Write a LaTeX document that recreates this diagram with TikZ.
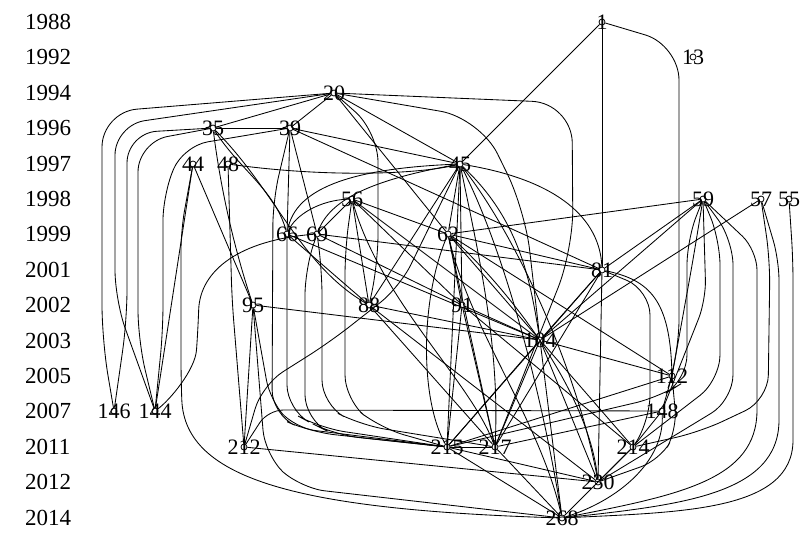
\documentclass[tikz,border=0pt]{standalone}
\usepackage{fontspec}
\setmainfont{Liberation Serif}
\newcommand\gnode[4]{\node[dot] (n#1) at (#2,#3) {}; \node[lab] (t#1) at (#2,#3) {#4};}
\begin{document}
\begin{tikzpicture}[x=1pt,y=-1pt,
  dot/.style={circle, draw, inner sep=0pt, minimum size=6pt, line width=0.8pt},
  lab/.style={inner sep=0pt, font=\fontsize{22}{22}\selectfont},
  yr/.style={inner sep=0pt, anchor=west, font=\fontsize{23}{23}\selectfont},
  e/.style={line width=0.85pt, rounded corners=20pt}]
\useasboundingbox (0,0) rectangle (804,539);
% year labels
\foreach \yy/\k in {1988/0,1992/1,1994/2,1996/3,1997/4,1998/5,1999/6,2001/7,2002/8,2003/9,2005/10,2007/11,2011/12,2012/13,2014/14}
  \node[yr] (y\yy) at (25,{22+35.4*\k}) {\yy};
% nodes
\gnode{1}{602}{22}{1}
\gnode{13}{693}{57}{13}
\gnode{20}{334}{93}{20}
\gnode{35}{213}{128}{35}
\gnode{39}{290}{128}{39}
\gnode{44}{193}{164}{44}
\gnode{48}{228}{164}{48}
\gnode{45}{460}{164}{45}
\gnode{56}{352}{199}{56}
\gnode{59}{703}{199}{59}
\gnode{57}{761}{199}{57}
\gnode{55}{789}{199}{55}
\gnode{66}{287}{234}{66}
\gnode{69}{317}{234}{69}
\gnode{62}{448}{234}{62}
\gnode{81}{602}{270}{81}
\gnode{95}{253}{305}{95}
\gnode{88}{369}{305}{88}
\gnode{91}{462}{305}{91}
\gnode{104}{540}{340}{104}
\gnode{112}{672}{376}{112}
\gnode{146}{114}{411}{146}
\gnode{144}{155}{411}{144}
\gnode{148}{662}{411}{148}
\gnode{212}{244}{447}{212}
\gnode{215}{447}{447}{215}
\gnode{217}{495}{447}{217}
\gnode{214}{633}{447}{214}
\gnode{230}{598}{482}{230}
\gnode{268}{562}{518}{268}
% straight edges
\foreach \a/\b in {1/45, 1/81, 20/35, 20/39, 20/45, 20/62, 35/39, 39/45, 39/66, 39/69, 39/81,
  44/144, 44/95, 45/62, 45/91, 45/88, 45/215, 56/62, 56/88, 56/91, 56/104, 56/69, 66/88, 66/104,
  69/91, 69/81, 62/81, 62/59, 62/112, 62/91, 62/104, 62/217, 59/81, 59/104, 57/104, 81/104, 81/215,
  81/217, 81/230, 88/104, 88/217, 88/230, 91/104, 91/215, 91/217, 91/214, 95/212, 95/104,
  104/112, 104/215, 104/217, 104/230, 104/268, 104/214, 112/148, 112/215, 148/217, 148/214,
  212/230, 215/217, 215/268, 215/230, 217/268, 214/230, 214/268}
  \draw[e] (n\a) -- (n\b);
% curved edges
\draw[e,rounded corners=35pt] (n1) -- (679,45) -- (679,355) -- (n112);
\draw[e,rounded corners=40pt] (n20) -- (572,103) -- (573,250) -- (n217);
\draw[e,rounded corners=35pt] (n20) -- (102,112) -- (102,340) -- (n146);
\draw[e,rounded corners=30pt] (n20) -- (115,125) -- (115,300) -- (n144);
\draw[e,rounded corners=30pt] (n20) -- (378,132) -- (378,265) -- (n88);
\draw[e,rounded corners=40pt] (n20) -- (480,118) -- (525,210) -- (n104);
\draw[e,rounded corners=30pt] (n35) -- (127,133) -- (127,320) -- (n146);
\draw[e,rounded corners=30pt] (n35) -- (138,142) -- (138,340) -- (n144);
\draw[e,rounded corners=25pt] (n39) -- (183,146) -- (163,195) -- (163,330) -- (n144);
\draw[e] (n35) .. controls (240,170) and (275,190) .. (n66);
\draw[e] (n35) .. controls (275,190) and (300,265) .. (n88);
\draw[e] (n35) .. controls (222,200) and (238,260) .. (n95);
\draw[e,rounded corners=25pt] (n39) -- (273,200) -- (272,415) -- (310,432) -- (n215);
\draw[e] (n44) -- (181,230) -- (181,380) .. controls (185,480) and (300,510) .. (n268);
\draw[e] (n48) -- (232,300) -- (n212);
\draw[e] (n48) .. controls (330,178) and (420,174) .. (n45);
\draw[e] (n45) .. controls (360,168) and (295,185) .. (n66);
\draw[e] (n45) .. controls (370,180) and (330,200) .. (n69);
\draw[e,rounded corners=25pt] (n45) -- (400,287) -- (330,342) -- (262,385) -- (n212);
\draw[e] (n45) .. controls (520,220) and (530,280) .. (n104);
\draw[e] (n45) .. controls (560,180) and (600,220) .. (n81);
\draw[e] (n45) .. controls (480,260) and (500,350) .. (n217);
\draw[e] (n45) .. controls (520,240) and (580,380) .. (n230);
\draw[e] (n45) .. controls (500,240) and (540,380) .. (n268);
\draw[e] (n56) .. controls (320,200) and (295,215) .. (n66);
\draw[e,rounded corners=25pt] (n56) -- (345,250) -- (345,400) -- (380,428) -- (n215);
\draw[e] (n56) .. controls (380,300) and (470,380) .. (n217);
\draw[e,rounded corners=25pt] (n66) -- (287,410) -- (320,428) -- (n215);
\draw[e] (n69) .. controls (240,240) and (200,270) .. (198,330) .. controls (195,370) and (170,400) .. (n144);
\draw[e,rounded corners=25pt] (n69) -- (305,270) -- (305,420) -- (335,435) -- (n215);
\draw[e,rounded corners=25pt] (n69) -- (322,270) -- (322,405) -- (360,425) -- (n217);
\draw[e] (n62) .. controls (420,300) and (420,400) .. (n215);
\draw[e] (n62) .. controls (520,300) and (590,400) .. (n230);
\draw[e] (n62) .. controls (470,330) and (540,420) .. (n268);
\draw[e] (n59) -- (693,260) -- (n112);
\draw[e] (n59) -- (706,300) -- (n148);
\draw[e,rounded corners=25pt] (n59) -- (720,240) -- (720,380) -- (n214);
\draw[e,rounded corners=25pt] (n59) -- (733,240) -- (733,400) -- (n230);
\draw[e] (n59) -- (757,250) -- (757,390) .. controls (757,480) and (680,495) .. (n268);
\draw[e,rounded corners=25pt] (n59) -- (687,240) -- (687,380) -- (660,397) -- (n215);
\draw[e,rounded corners=25pt] (n57) -- (770,260) -- (768,400) -- (700,432) -- (n214);
\draw[e] (n57) -- (779,260) -- (779,400) .. controls (779,495) and (680,505) .. (n268);
\draw[e] (n55) -- (793,260) -- (793,420) .. controls (793,512) and (680,512) .. (n268);
\draw[e] (n81) .. controls (650,280) and (670,300) .. (n112);
\draw[e,rounded corners=25pt] (n81) -- (650,290) -- (650,420) -- (n214);
\draw[e,rounded corners=20pt] (n95) -- (270,400) -- (295,428) -- (n215);
\draw[e,rounded corners=25pt] (n95) -- (265,455) -- (300,488) -- (n268);
\draw[e,rounded corners=20pt] (n112) -- (677,430) -- (660,460) -- (n230);
\draw[e] (n148) .. controls (665,460) and (620,500) .. (n268);
\draw[e,rounded corners=15pt] (n212) -- (268,410) -- (n148);
\end{tikzpicture}
\end{document}
